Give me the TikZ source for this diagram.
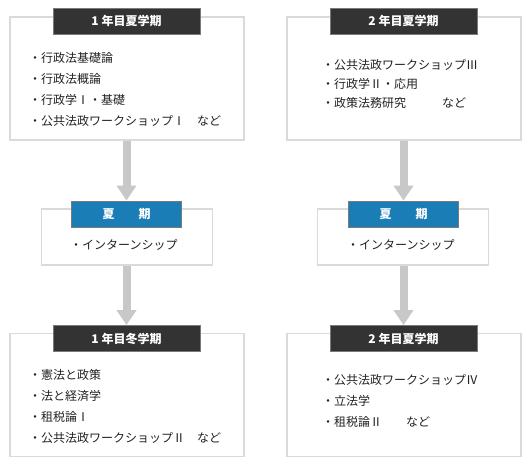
\documentclass[tikz,border=0pt]{standalone}
\usepackage{fontspec}
\setmainfont{Noto Sans CJK JP}
\usetikzlibrary{arrows.meta, positioning}
\definecolor{hddark}{HTML}{333333}
\definecolor{hdblue}{HTML}{1B7DB5}
\definecolor{hdedge}{HTML}{7A7A7A}
\definecolor{boxgray}{HTML}{DADADA}
\definecolor{arrgray}{HTML}{C8C8C8}
\definecolor{txtdark}{HTML}{222222}

\begin{document}
\begin{tikzpicture}[x=1pt, y=-1pt,
  term/.style={rectangle, draw=boxgray, line width=1.5pt, fill=white,
    minimum width=234pt, minimum height=123pt},
  brk/.style={rectangle, draw=boxgray, line width=1.5pt, fill=white,
    minimum width=171pt, minimum height=56pt},
  head/.style={rectangle, draw=hdedge, line width=0.8pt, fill=hddark, text=white,
    minimum width=147pt, minimum height=26pt, font=\fontsize{12}{13}\selectfont\bfseries},
  bhead/.style={head, fill=hdblue, minimum width=110pt},
  item/.style={anchor=north west, align=left, inner sep=0pt, text=txtdark,
    font=\fontsize{12}{21}\selectfont},
  flow/.style={draw=arrgray, line width=8pt, -{Triangle[length=15pt, width=19pt]}},
]

% Background
\useasboundingbox[fill=white] (0,0) rectangle (530,471);

% term boxes
\node[term] (t1) at (127,78.5) {};
\node[term] (t2) at (404,78.5) {};
\node[brk] (m1) at (127,237) {};
\node[brk] (m2) at (403,237) {};
\node[term] (b1) at (127,395) {};
\node[term] (b2) at (404,395) {};

% headers
\node[head] (t1h) at (126.5,21) {1 年目夏学期};
\node[head] (t2h) at (403.5,21) {2 年目夏学期};
\node[bhead] (m1h) at (126.5,214) {夏　　期};
\node[bhead] (m2h) at (403.5,214) {夏　　期};
\node[head] (b1h) at (126.5,338.5) {1 年目冬学期};
\node[head] (b2h) at (403.5,338.5) {2 年目夏学期};

% course lists
\node[item] (t1l) at (29,52.5) {・行政法基礎論\\・行政法概論\\・行政学Ⅰ・基礎\\・公共法政ワークショップⅠ　など};
\node[item, font=\fontsize{12}{19}\selectfont] (t2l) at (322,59.5)
  {・公共法政ワークショップⅢ\\・行政学Ⅱ・応用\\・政策法務研究　　　など};
\node[item, anchor=west] (m1l) at (70,245) {・インターンシップ};
\node[item, anchor=west] (m2l) at (347,245) {・インターンシップ};
\node[item] (b1l) at (29,369.5) {・憲法と政策\\・法と経済学\\・租税論Ⅰ\\・公共法政ワークショップⅡ　など};
\node[item] (b2l) at (322,374.5) {・公共法政ワークショップⅣ\\・立法学\\・租税論Ⅱ　　など};

% flow arrows
\draw[flow] (m1h.north |- t1.south) -- (m1h.north);
\draw[flow] (m2h.north |- t2.south) -- (m2h.north);
\draw[flow] (b1h.north |- m1.south) -- (b1h.north);
\draw[flow] (b2h.north |- m2.south) -- (b2h.north);
\end{tikzpicture}
\end{document}
